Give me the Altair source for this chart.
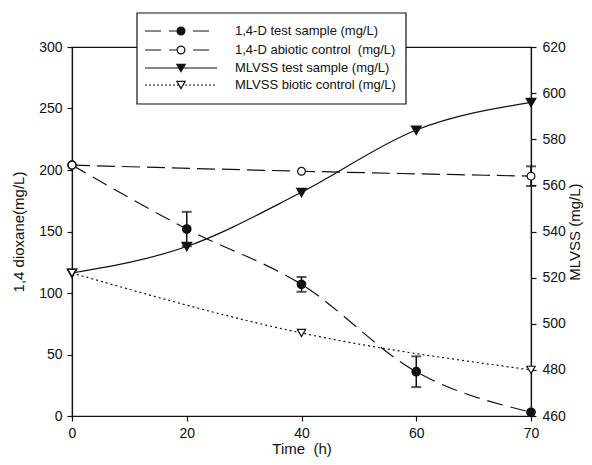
import altair as alt
import pandas as pd

# ---- data ----
times = [0, 20, 40, 60, 70]
d_test = [204, 152, 107, 36, 3]
d_test_err = [0, 14, 6, 12.5, 0]

ctrl_times = [0, 40, 70]
d_abiotic = [204, 199, 195]
d_abiotic_err = [0, 0, 8]

mlvss_test = [522, 533.5, 557, 584, 596]
mlvss_bio = [522, 496, 480]

left_ticks = [0, 50, 100, 150, 200, 250, 300]
right_ticks = [460, 480, 500, 520, 540, 560, 580, 600, 620]

legend_labels = [
    "1,4-D test sample (mg/L)",
    "1,4-D abiotic control\u00a0 (mg/L)",
    "MLVSS test sample (mg/L)",
    "MLVSS biotic control (mg/L)",
]

# ---- tables ----
df_test = pd.DataFrame({"t": times, "v": d_test, "e": d_test_err})
df_test["lo"] = df_test["v"] - df_test["e"]
df_test["hi"] = df_test["v"] + df_test["e"]
df_test_err = df_test[df_test["e"] > 0]

df_abi = pd.DataFrame({"t": ctrl_times, "v": d_abiotic, "e": d_abiotic_err})
df_abi["lo"] = df_abi["v"] - df_abi["e"]
df_abi["hi"] = df_abi["v"] + df_abi["e"]
df_abi_err = df_abi[df_abi["e"] > 0]

df_mt = pd.DataFrame({"t": times, "v": mlvss_test})
df_mb = pd.DataFrame({"t": ctrl_times, "v": mlvss_bio})

INK = "#111111"
FONT = "Liberation Sans"

xenc = alt.X(
    "t:O",
    scale=alt.Scale(type="point", padding=0, domain=times),
    axis=alt.Axis(title="Time\u00a0 (h)", labelAngle=0, titlePadding=1, labelPadding=5),
)

laxis = alt.Axis(values=left_ticks, title="1,4 dioxane(mg/L)", titlePadding=12)
lscale = alt.Scale(domain=[0, 300], nice=False, zero=False)
raxis = alt.Axis(values=right_ticks, title="MLVSS (mg/L)", orient="right",
                 titleAngle=270, titlePadding=17, labelPadding=6)
rscale = alt.Scale(domain=[460, 620], nice=False, zero=False)


def yl(f):
    return alt.Y(f + ":Q", scale=lscale, axis=laxis)


def yr(f):
    return alt.Y(f + ":Q", scale=rscale, axis=raxis)


# ---- left-axis layers ----
test_line = alt.Chart(df_test).mark_line(
    color=INK, strokeWidth=1.2, strokeDash=[16, 8], interpolate="monotone"
).encode(x=xenc, y=yl("v"))
test_err = alt.Chart(df_test_err).mark_rule(color=INK, strokeWidth=1.5).encode(
    x=xenc, y=yl("lo"), y2="hi")
test_cap_hi = alt.Chart(df_test_err).mark_tick(color=INK, size=10, thickness=2).encode(
    x=xenc, y=yl("hi"))
test_cap_lo = alt.Chart(df_test_err).mark_tick(color=INK, size=10, thickness=2).encode(
    x=xenc, y=yl("lo"))
test_pts = alt.Chart(df_test).mark_point(
    shape="circle", filled=True, fill=INK, stroke=INK, size=60, opacity=1
).encode(x=xenc, y=yl("v"))

abi_line = alt.Chart(df_abi).mark_line(
    color=INK, strokeWidth=1.2, strokeDash=[18, 7], interpolate="monotone"
).encode(x=xenc, y=yl("v"))
abi_err = alt.Chart(df_abi_err).mark_rule(color=INK, strokeWidth=1.5).encode(
    x=xenc, y=yl("lo"), y2="hi")
abi_cap_hi = alt.Chart(df_abi_err).mark_tick(color=INK, size=10, thickness=2).encode(
    x=xenc, y=yl("hi"))
abi_cap_lo = alt.Chart(df_abi_err).mark_tick(color=INK, size=10, thickness=2).encode(
    x=xenc, y=yl("lo"))
abi_pts = alt.Chart(df_abi).mark_point(
    shape="circle", filled=True, fill="white", stroke=INK, strokeWidth=1.2, size=60, opacity=1
).encode(x=xenc, y=yl("v"))

left = alt.layer(test_line, test_err, test_cap_hi, test_cap_lo, test_pts,
                 abi_line, abi_err, abi_cap_hi, abi_cap_lo, abi_pts)

# ---- right-axis layers ----
mt_line = alt.Chart(df_mt).mark_line(
    color=INK, strokeWidth=1.2, interpolate="monotone"
).encode(x=xenc, y=yr("v"))
mt_pts = alt.Chart(df_mt).mark_point(
    shape="triangle-down", filled=True, fill=INK, stroke=INK, size=70, opacity=1
).encode(x=xenc, y=yr("v"))
mb_line = alt.Chart(df_mb).mark_line(
    color=INK, strokeWidth=1.2, strokeDash=[2, 3], interpolate="monotone"
).encode(x=xenc, y=yr("v"))
mb_pts = alt.Chart(df_mb).mark_point(
    shape="triangle-down", filled=True, fill="white", stroke=INK, strokeWidth=1.2, size=70, opacity=1
).encode(x=xenc, y=yr("v"))

right = alt.layer(mt_line, mt_pts, mb_line, mb_pts)

# ---- legend (drawn in pixel space) ----
one = pd.DataFrame({"k": [0]})
leg_rows_y = [-16, 3, 21, 38]
leg_dash = [[16, 8], [16, 8], [1, 0], [2, 2]]
leg_shape = ["circle", "circle", "triangle-down", "triangle-down"]
leg_fill = [INK, "white", INK, "white"]

legend_layers = [
    alt.Chart(one).mark_rect(fill="white", stroke=INK, strokeWidth=1.2).encode(
        x=alt.value(65), x2=alt.value(334), y=alt.value(-34), y2=alt.value(57))
]
for i, lab in enumerate(legend_labels):
    yy = leg_rows_y[i]
    legend_layers.append(
        alt.Chart(one).mark_rule(color=INK, strokeWidth=1.2, strokeDash=leg_dash[i]).encode(
            x=alt.value(73), x2=alt.value(145), y=alt.value(yy)))
    legend_layers.append(
        alt.Chart(one).mark_point(shape=leg_shape[i], filled=True, fill=leg_fill[i],
                                  stroke=INK, strokeWidth=1.2,
                                  size=60 if i < 2 else 70, opacity=1).encode(
            x=alt.value(109), y=alt.value(yy)))
    legend_layers.append(
        alt.Chart(one).mark_text(text=lab, align="left", baseline="middle",
                                 font=FONT, fontSize=13, color=INK).encode(
            x=alt.value(163), y=alt.value(yy)))

legend = alt.layer(*legend_layers)

chart = alt.layer(left, right, legend).resolve_scale(y="independent").properties(
    width=459, height=369,
    padding={"left": 64, "top": 39, "right": 53, "bottom": 41},
    autosize=alt.AutoSizeParams(type="none"),
).configure_view(
    stroke=INK, strokeWidth=1.2
).configure_axis(
    labelFont=FONT, titleFont=FONT, labelFontSize=14, titleFontSize=15,
    titleFontWeight="normal", labelColor=INK, titleColor=INK,
    domainColor=INK, tickColor=INK, domainWidth=1.2, tickWidth=1.2,
    tickSize=5, labelPadding=5, grid=False,
)

chart.save("out.html", embed_options={"renderer": "svg", "actions": False})
